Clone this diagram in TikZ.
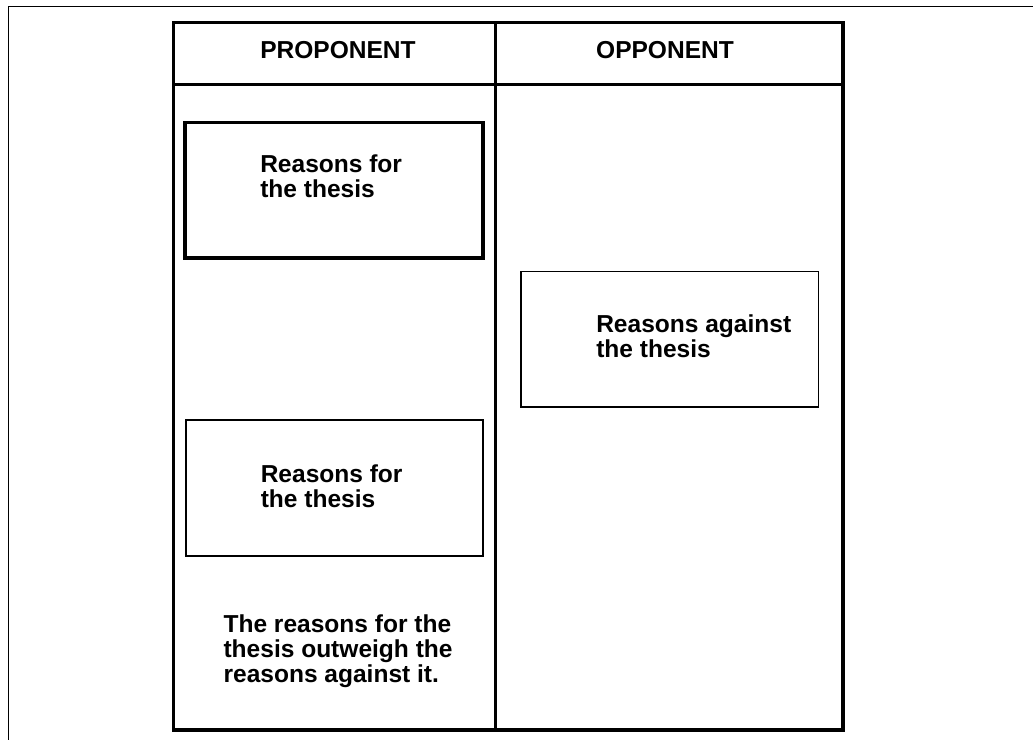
\documentclass[tikz,border=0pt]{standalone}
\usepackage{fontspec}
\setmainfont{Liberation Sans}
\usetikzlibrary{fit}
\begin{document}
\begin{tikzpicture}[x=0.75pt,y=-0.75pt,
  frame/.style={line width=1.1pt},
  table/.style={line width=2.3pt, line join=miter},
  thickbox/.style={draw, line width=2.6pt, inner sep=0pt},
  thinbox/.style={draw, line width=1.2pt, inner sep=0pt},
  label/.style={inner sep=0pt, font=\fontsize{18.4}{18.75}\selectfont\bfseries},
  head/.style={label, anchor=base},
  txt/.style={label, anchor=base west}]
\useasboundingbox (0,0) rectangle (1033,740);
% outer frame (top and left only)
\coordinate (ftl) at (8.7,6.7);
\coordinate (ftr) at (1033,6.7);
\coordinate (fbl) at (8.7,740);
\draw[frame] (ftr) -- (ftl) -- (fbl);
% table
\coordinate (ttl) at (173.5,22.5);
\coordinate (tbr) at (843,730);
\coordinate (hl) at (173.5,84.5);
\coordinate (hr) at (843,84.5);
\coordinate (dt) at (495.8,22.5);
\coordinate (db) at (495.8,730);
\draw[table] (ttl) rectangle (tbr);
\draw[table] (hl) -- (hr);
\draw[table] (dt) -- (db);
% headers
\node[head] (pro) at (338,58.5) {PROPONENT};
\node[head] (opp) at (665,58.5) {OPPONENT};
% boxes
\node[thickbox, fit={(185,122.3) (483,257.8)}] (b1) {};
\node[thinbox, fit={(185.8,420.2) (483.2,555.8)}] (b2) {};
\node[thinbox, fit={(521.2,271.5) (818.5,407.2)}] (b3) {};
% texts
\node[txt] (t1) at (260,172) {\begin{tabular}[t]{@{}l@{}}Reasons for\\the thesis\end{tabular}};
\node[txt] (t2) at (260.5,482) {\begin{tabular}[t]{@{}l@{}}Reasons for\\the thesis\end{tabular}};
\node[txt] (t3) at (596,332.5) {\begin{tabular}[t]{@{}l@{}}Reasons against\\the thesis\end{tabular}};
\node[txt] (t4) at (223.3,632) {\begin{tabular}[t]{@{}l@{}}The reasons for the\\thesis outweigh the\\reasons against it.\end{tabular}};
\end{tikzpicture}
\end{document}
